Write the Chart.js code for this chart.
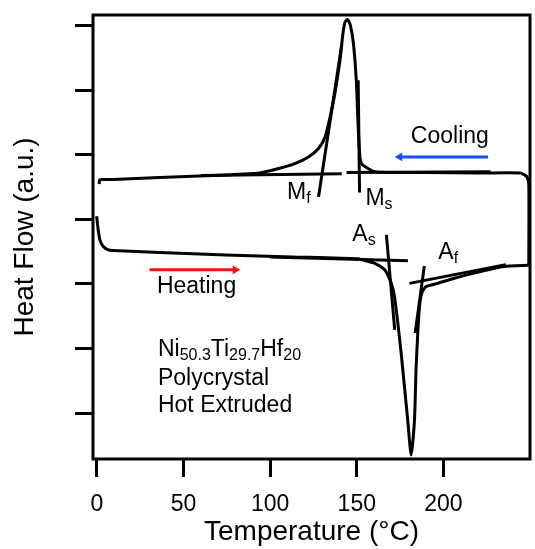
<!DOCTYPE html>
<html>
<head>
<meta charset="utf-8">
<script src="https://cdn.jsdelivr.net/npm/chart.js"></script>
<style>
  html, body { margin: 0; padding: 0; background: #fff; }
</style>
</head>
<body>
<canvas id="dsc" width="535" height="549"></canvas>
<script>
// DSC loop, Ni50.3Ti29.7Hf20 (°C, heat flow in a.u.)
const xTicks = [0, 50, 100, 150, 200];
const yTicks = [1, 2, 3, 4, 5, 6, 7];

// heating run, left to right
const heatT = [-0.2, 0.7, 1.7, 3.6, 6.5, 9.3, 36.1, 74.4, 112.6, 150.8, 155.0, 160.4, 166.1, 169.9, 171.8, 175.6, 179.4, 181.4, 183.3, 184.2, 185.2, 186.2, 187.5, 190.0, 196.7, 206.3, 219.6, 234.9, 249.3];
const heatQ = [4.05, 3.84, 3.68, 3.58, 3.53, 3.52, 3.49, 3.45, 3.42, 3.39, 3.36, 3.32, 3.22, 3.01, 2.80, 1.93, 0.89, 0.35, 0.89, 1.67, 2.24, 2.65, 2.86, 2.96, 3.01, 3.09, 3.18, 3.27, 3.29];

// cooling run, right to left
const coolT = [249.3, 249.3, 248.0, 244.3, 220.0, 190.0, 170.0, 160.4, 154.6, 152.7, 151.8, 150.8, 149.7, 148.0, 146.2, 144.7, 143.2, 141.9, 140.3, 137.4, 134.6, 131.7, 127.9, 122.1, 114.5, 104.9, 93.5, 74.5, 36.1, 9.2, 2.5, 1.5, 1.3];
const coolQ = [3.29, 4.55, 4.67, 4.72, 4.72, 4.73, 4.73, 4.74, 4.82, 4.87, 4.97, 5.43, 6.16, 6.74, 7.02, 7.10, 7.06, 6.86, 6.47, 5.96, 5.59, 5.28, 5.10, 4.97, 4.87, 4.79, 4.72, 4.69, 4.65, 4.62, 4.62, 4.61, 4.55];

// construction (tangent) lines: [T0, T1], [Q0, Q1]
const mfLineT = [127.9, 141.3], mfLineQ = [4.35, 6.71];
const msLineT = [151.6, 150.8], msLineQ = [4.42, 6.16];
const coolBaseLT = [60.0, 141.3], coolBaseLQ = [4.68, 4.71];
const coolBaseRT = [144.1, 227.2], coolBaseRQ = [4.73, 4.74];
const asBaseT = [100.0, 179.5], asBaseQ = [3.42, 3.36];
const asLineT = [167.1, 171.9], asLineQ = [3.76, 2.29];
const afLineT = [189.0, 183.7], afLineQ = [3.28, 2.24];
const afBaseT = [180.4, 236.0], afBaseQ = [3.01, 3.30];

// direction arrows (tail, head)
const coolArrowT = [225.8, 174.8], coolArrowQ = [4.97, 4.97];
const heatArrowT = [30.4, 79.8], heatArrowQ = [3.22, 3.22];

// transformation labels: letter, subscript, left edge T, middle Q
const tagMain = ['M', 'M', 'A', 'A'];
const tagSub = ['f', 's', 's', 'f'];
const tagT = [109.7, 155.0, 147.4, 197.1];
const tagQ = [4.41, 4.33, 3.76, 3.48];

const FONT = "'Liberation Sans', Arial, sans-serif";

function pts(ts, qs) {
  return ts.map((t, i) => ({ x: t, y: qs[i] }));
}

function curve(ts, qs, tension) {
  return {
    data: pts(ts, qs),
    showLine: true,
    borderColor: '#000',
    borderWidth: 3,
    pointRadius: 0,
    tension: tension,
    borderCapStyle: 'butt',
    borderJoinStyle: 'round'
  };
}

function arrow(ts, qs, color, rot) {
  return {
    data: pts(ts, qs),
    showLine: true,
    borderColor: color,
    backgroundColor: color,
    borderWidth: 3,
    pointStyle: 'triangle',
    pointRadius: [0, 5],
    pointBorderWidth: 0,
    rotation: rot,
    tension: 0
  };
}

// draws text made of [string, isSubscript] pieces
function drawParts(ctx, parts, x, y) {
  ctx.textBaseline = 'middle';
  ctx.textAlign = 'left';
  parts.forEach(([s, sub]) => {
    ctx.font = (sub ? '16px ' : '23px ') + FONT;
    ctx.fillText(s, x, sub ? y + 6 : y);
    x += ctx.measureText(s).width;
  });
}

const annotate = {
  id: 'annotate',
  afterDraw(chart) {
    const { ctx, chartArea: a } = chart;
    const sx = chart.scales.x, sy = chart.scales.y;
    ctx.save();
    ctx.strokeStyle = '#000';
    ctx.lineWidth = 3;
    ctx.strokeRect(a.left, a.top, a.right - a.left, a.bottom - a.top);

    ctx.fillStyle = '#000';
    tagMain.forEach((m, i) => {
      drawParts(ctx, [[m, false], [tagSub[i], true]], sx.getPixelForValue(tagT[i]), sy.getPixelForValue(tagQ[i]));
    });
    drawParts(ctx, [['Cooling', false]], sx.getPixelForValue(181.2), sy.getPixelForValue(5.28));
    drawParts(ctx, [['Heating', false]], sx.getPixelForValue(34.6), sy.getPixelForValue(2.96));

    const left = sx.getPixelForValue(35.2);
    drawParts(ctx, [['Ni', false], ['50.3', true], ['Ti', false], ['29.7', true], ['Hf', false], ['20', true]], left, sy.getPixelForValue(1.98));
    drawParts(ctx, [['Polycrystal', false]], left, sy.getPixelForValue(1.54));
    drawParts(ctx, [['Hot Extruded', false]], left, sy.getPixelForValue(1.12));
    ctx.restore();
  }
};

new Chart(document.getElementById('dsc'), {
  type: 'scatter',
  data: {
    datasets: [
      curve(heatT, heatQ, 0.2),
      curve(coolT, coolQ, 0.2),
      curve(mfLineT, mfLineQ, 0),
      curve(msLineT, msLineQ, 0),
      curve(coolBaseLT, coolBaseLQ, 0),
      curve(coolBaseRT, coolBaseRQ, 0),
      curve(asBaseT, asBaseQ, 0),
      curve(asLineT, asLineQ, 0),
      curve(afLineT, afLineQ, 0),
      curve(afBaseT, afBaseQ, 0),
      arrow(coolArrowT, coolArrowQ, '#1a4dff', 270),
      arrow(heatArrowT, heatArrowQ, '#f21212', 90)
    ]
  },
  options: {
    responsive: false,
    animation: false,
    layout: { padding: { top: 15, right: 2, left: 0, bottom: 0 } },
    plugins: { legend: { display: false }, tooltip: { enabled: false } },
    scales: {
      x: {
        type: 'linear',
        min: -2.3,
        max: 250,
        afterBuildTicks: s => { s.ticks = xTicks.map(v => ({ value: v })); },
        afterFit: s => { s.height = 90; },
        border: { display: false },
        grid: { drawOnChartArea: false, drawTicks: true, tickLength: 18, lineWidth: 3, color: '#000' },
        ticks: { color: '#000', font: { family: FONT, size: 23 }, padding: 14, maxRotation: 0 },
        title: { display: true, text: 'Temperature (°C)', color: '#000', font: { family: FONT, size: 28 }, padding: { top: 0, bottom: 0 } }
      },
      y: {
        type: 'linear',
        min: 0.287,
        max: 7.17,
        afterBuildTicks: s => { s.ticks = yTicks.map(v => ({ value: v })); },
        afterFit: s => { s.width = 93; },
        border: { display: false },
        grid: { drawOnChartArea: false, drawTicks: true, tickLength: 18, lineWidth: 3, color: '#000' },
        ticks: { display: false },
        title: { display: true, text: 'Heat Flow (a.u.)', color: '#000', font: { family: FONT, size: 28 }, padding: { top: 8, bottom: 0 } }
      }
    }
  },
  plugins: [annotate]
});
</script>
</body>
</html>
